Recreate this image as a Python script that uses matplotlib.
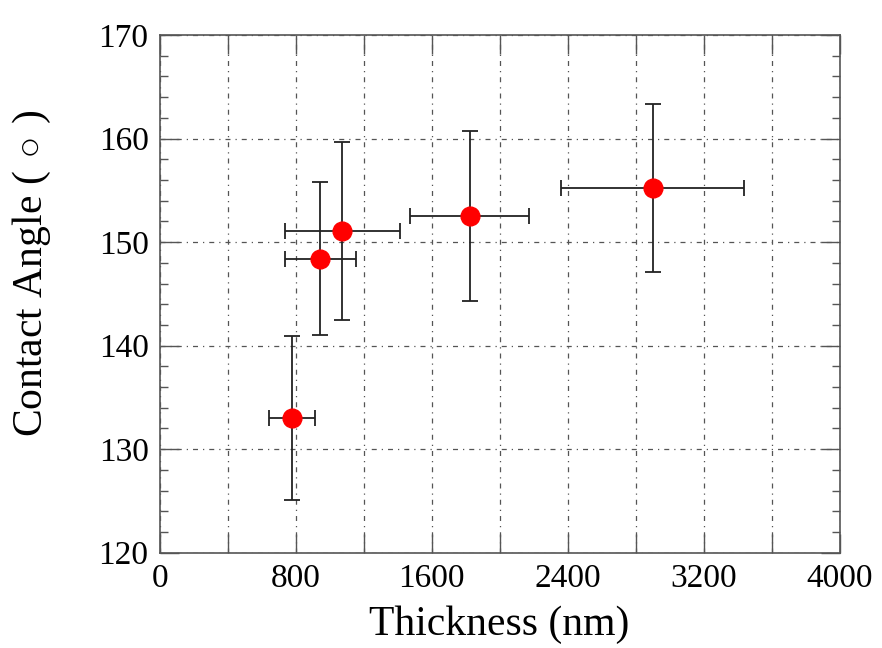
import numpy as np
import matplotlib.pyplot as plt

# thickness (nm) vs contact angle (deg)
thickness = [781, 945, 1075, 1823, 2901]
thickness_err = [135, 208, 336, 351, 538]
angle = [133.0, 148.4, 151.1, 152.5, 155.2]
angle_err = [7.9, 7.4, 8.6, 8.2, 8.1]

xticks = np.arange(0, 4001, 400)
xticklabels = [str(v) if v % 800 == 0 else '' for v in xticks]
yticks = np.arange(120, 171, 10)

plt.rcParams['font.family'] = ['Liberation Serif', 'DejaVu Serif']
plt.rcParams['mathtext.fontset'] = 'cm'

fig = plt.figure(figsize=(8.82, 6.48), dpi=100)
ax = fig.add_axes([0.181, 0.147, 0.771, 0.799])

ax.errorbar(thickness, angle, xerr=thickness_err, yerr=angle_err,
            fmt='o', color='red', ms=13.5, ecolor='#222222', elinewidth=1.3,
            capsize=6, capthick=1.3, zorder=3)

ax.set_xlim(0, 4000)
ax.set_ylim(120, 170)
ax.set_xticks(xticks)
ax.set_xticklabels(xticklabels)
ax.set_yticks(yticks)
ax.set_yticks(np.arange(120, 171, 2), minor=True)

ax.grid(True, which='major', color='#555555', lw=0.9, linestyle=(0, (4, 4, 1, 4)))

ax.tick_params(which='major', direction='in', length=14, width=1, color='#555555',
               top=True, right=True, labelsize=24, pad=8)
ax.tick_params(which='minor', direction='in', length=6, width=1, color='#555555',
               top=True, right=True)
for s in ax.spines.values():
    s.set_color('#555555')
    s.set_linewidth(1.2)

ax.set_xlabel('Thickness (nm)', fontsize=30, labelpad=8)
ax.set_ylabel(r'Contact Angle ($\,\circ\,$)', fontsize=30)
ax.yaxis.set_label_coords(-0.157, 0.54)

fig.savefig('out.png', dpi=100)
